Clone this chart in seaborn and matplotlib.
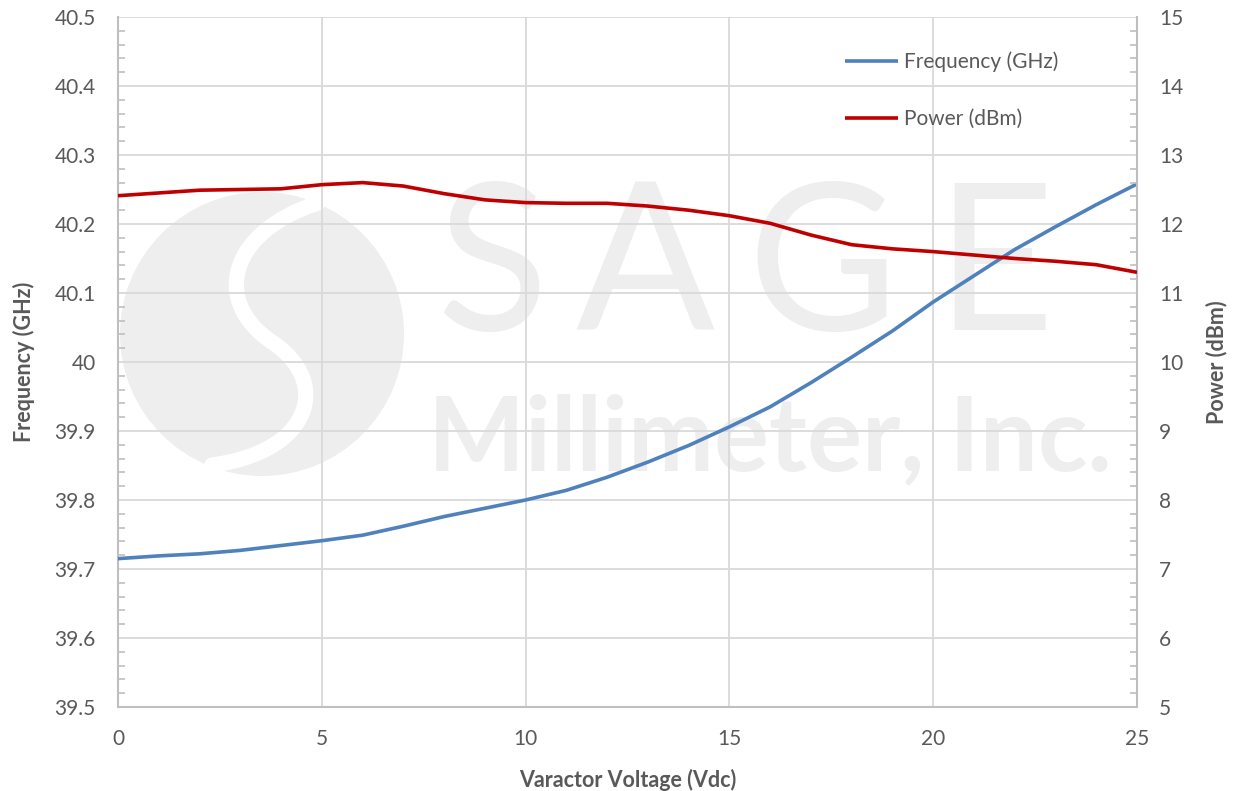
import numpy as np
import pandas as pd
import matplotlib
matplotlib.use("Agg")
import matplotlib.pyplot as plt
import seaborn as sns
from matplotlib.ticker import MultipleLocator, FuncFormatter
from matplotlib.patches import Ellipse, PathPatch
from matplotlib.path import Path

# ---- data ----
voltage = [0, 1, 2, 3, 4, 5, 6, 7, 8, 9, 10, 11, 12, 13, 14, 15, 16, 17, 18, 19, 20, 21, 22, 23, 24, 25]
frequency_ghz = [39.715, 39.719, 39.722, 39.727, 39.734, 39.741, 39.749, 39.762, 39.776, 39.788,
                 39.800, 39.814, 39.833, 39.855, 39.879, 39.906, 39.935, 39.970, 40.007, 40.045,
                 40.087, 40.125, 40.163, 40.196, 40.228, 40.258]
power_dbm = [12.41, 12.45, 12.49, 12.50, 12.51, 12.57, 12.60, 12.55, 12.44, 12.35,
             12.31, 12.30, 12.30, 12.26, 12.20, 12.12, 12.01, 11.84, 11.70, 11.64,
             11.60, 11.55, 11.50, 11.46, 11.41, 11.30]
freq_label = "Frequency (GHz)"
power_label = "Power (dBm)"
x_label = "Varactor Voltage (Vdc)"

df = pd.DataFrame({"v": voltage, "f": frequency_ghz, "p": power_dbm})

sns.set_style("white")
plt.rcParams["font.family"] = ["Lato", "DejaVu Sans"]

W, H = 1235, 791
fig = plt.figure(figsize=(W / 100, H / 100), dpi=100)
L, R, T, B = 118, 1137, 17, 707
ax = fig.add_axes([L / W, 1 - B / H, (R - L) / W, (B - T) / H])
ax2 = ax.twinx()

TXT = "#595959"
GRID = "#D9D9D9"
SPINE = "#BFBFBF"
BLUE = "#4F81BD"
RED = "#C00000"

sns.lineplot(data=df, x="v", y="f", ax=ax, color=BLUE, linewidth=2.6, label=freq_label, legend=False, zorder=3)
sns.lineplot(data=df, x="v", y="p", ax=ax2, color=RED, linewidth=2.6, label=power_label, legend=False, zorder=3)
for a in (ax, ax2):
    for ln in a.get_lines():
        ln.set_solid_joinstyle("round")
        ln.set_solid_capstyle("butt")

ax.set_xlim(0, 25)
ax.set_ylim(39.5, 40.5)
ax2.set_ylim(5, 15)

ax.xaxis.set_major_locator(MultipleLocator(5))
ax.xaxis.set_minor_locator(MultipleLocator(1))
ax.yaxis.set_major_locator(MultipleLocator(0.1))
ax.yaxis.set_minor_locator(MultipleLocator(0.02))
ax2.yaxis.set_major_locator(MultipleLocator(1))
ax2.yaxis.set_minor_locator(MultipleLocator(0.2))

def ffmt(v, pos):
    s = f"{v:.1f}"
    if s.endswith(".0"):
        s = s[:-2]
    return s
ax.yaxis.set_major_formatter(FuncFormatter(ffmt))

ax.set_axisbelow(True)
ax.grid(True, which="major", color=GRID, linewidth=1.3)
ax2.grid(False)

for a in (ax, ax2):
    for s in a.spines.values():
        s.set_visible(False)
ax.spines["left"].set_visible(True)
ax.spines["bottom"].set_visible(True)
ax2.spines["right"].set_visible(True)
for s in (ax.spines["left"], ax.spines["bottom"], ax2.spines["right"]):
    s.set_color(SPINE)
    s.set_linewidth(1.5)

ax.tick_params(axis="both", which="major", length=0, labelsize=15, labelcolor=TXT)
ax.tick_params(axis="y", which="major", pad=16)
ax.tick_params(axis="x", which="major", pad=16)
ax.tick_params(axis="both", which="minor", direction="in", length=5, width=1.2, color=SPINE)
ax2.tick_params(axis="y", which="major", length=0, labelsize=15, labelcolor=TXT, pad=16)
ax2.tick_params(axis="y", which="minor", direction="in", length=5, width=1.2, color=SPINE)

ax.set_xlabel(x_label, fontsize=15.5, fontweight="bold", color=TXT, labelpad=14)
ax.set_ylabel(freq_label, fontsize=15.5, fontweight="bold", color=TXT, labelpad=14)
ax2.set_ylabel(power_label, fontsize=15.5, fontweight="bold", color=TXT, labelpad=16)

# ---- watermark (decoration) ----
WM = "#EEEEEE"
def pa(px, py):
    return ((px - L) / (R - L), (B - py) / (B - T))

cx, cy = pa(262, 334)
ax.add_patch(Ellipse((cx, cy), 284 / (R - L), 284 / (B - T), transform=ax.transAxes,
                     facecolor=WM, edgecolor="none", zorder=0.1))
verts = [pa(318, 203), pa(228, 232), pa(212, 302), pa(272, 342),
         pa(332, 382), pa(312, 452), pa(212, 465)]
codes = [Path.MOVETO, Path.CURVE4, Path.CURVE4, Path.CURVE4, Path.CURVE4, Path.CURVE4, Path.CURVE4]
ax.add_patch(PathPatch(Path(verts, codes), transform=ax.transAxes, facecolor="none",
                       edgecolor="white", linewidth=11, capstyle="round", zorder=0.2))
for ch, px in zip("SAGE", [492, 645, 822, 995]):
    x0, y0 = pa(px, 330)
    ax.text(x0, y0, ch, transform=ax.transAxes, fontsize=148, fontweight="normal",
            color=WM, ha="center", va="baseline", zorder=0.1)
x0, y0 = pa(770, 470)
ax.text(x0, y0, "Millimeter, Inc.", transform=ax.transAxes, fontsize=74, fontweight="bold",
        color=WM, ha="center", va="baseline", zorder=0.1)

# ---- legend ----
h1, l1 = ax.get_legend_handles_labels()
h2, l2 = ax2.get_legend_handles_labels()
leg = ax2.legend(h1 + h2, l1 + l2, loc="upper left", bbox_to_anchor=(pa(826, 33)),
                 bbox_transform=ax.transAxes, frameon=False, fontsize=15,
                 labelcolor=TXT, handlelength=2.55, handletextpad=0.3, labelspacing=1.75)

fig.savefig("out.png", dpi=100, facecolor="white")
